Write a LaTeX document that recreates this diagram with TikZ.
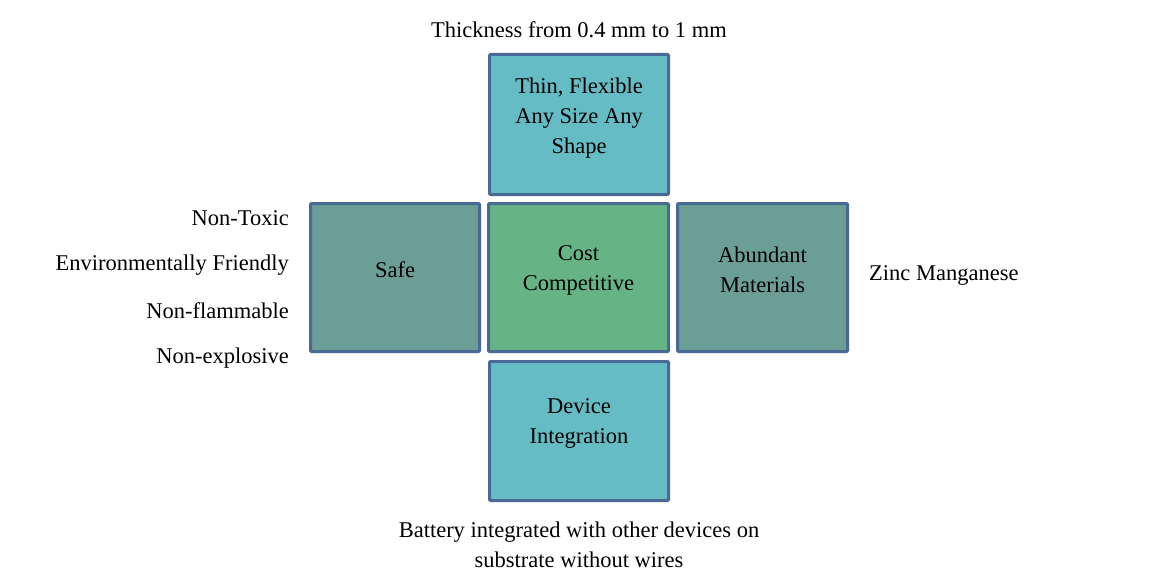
\documentclass[tikz,border=0pt]{standalone}
\usepackage{fontspec}
\setmainfont{Liberation Serif}
\definecolor{edge}{HTML}{4A6A96}
\definecolor{cyanfill}{HTML}{66BCC4}
\definecolor{greenfill}{HTML}{66B486}
\definecolor{tealfill}{HTML}{6A9E96}
\begin{document}
\begin{tikzpicture}[x=1pt,y=-1pt,
  box/.style={draw=edge,line width=3pt,rectangle,rounded corners=1pt,inner sep=0pt},
  txt/.style={font=\fontsize{22.5}{30}\selectfont,align=center,inner sep=0pt},
  side/.style={font=\fontsize{22.5}{30}\selectfont,inner sep=0pt}]
\useasboundingbox[fill=white] (0,0) rectangle (1166,588);
\node[box,fill=cyanfill,minimum width=179pt,minimum height=140pt] (top) at (579,124.5) {};
\node[box,fill=greenfill,minimum width=180pt,minimum height=148pt] (center) at (578.5,277.5) {};
\node[box,fill=tealfill,minimum width=169pt,minimum height=148pt] (left) at (395,277.5) {};
\node[box,fill=tealfill,minimum width=170pt,minimum height=148pt] (right) at (762.5,277.5) {};
\node[box,fill=cyanfill,minimum width=179pt,minimum height=139pt] (bottom) at (579,431) {};
\node[txt] (toptext) at (579,118) {Thin, Flexible\\Any Size Any\\Shape};
\node[txt] (centertext) at (578.5,270) {Cost\\Competitive};
\node[txt] (lefttext) at (395,270) {Safe};
\node[txt] (righttext) at (762.5,270) {Abundant\\Materials};
\node[txt] (bottomtext) at (579,423) {Device\\Integration};
\node[txt] (thick) at (579,30) {Thickness from 0.4 mm to 1 mm};
\node[side,anchor=east] (l1) at (289,218) {Non-Toxic};
\node[side,anchor=east] (l2) at (289,265) {Environmentally Friendly};
\node[side,anchor=east] (l3) at (289,311) {Non-flammable};
\node[side,anchor=east] (l4) at (289,358) {Non-explosive};
\node[side,anchor=west] (zinc) at (869,275) {Zinc Manganese};
\node[txt] (battery) at (579,545) {Battery integrated with other devices on\\substrate without wires};
\end{tikzpicture}
\end{document}
